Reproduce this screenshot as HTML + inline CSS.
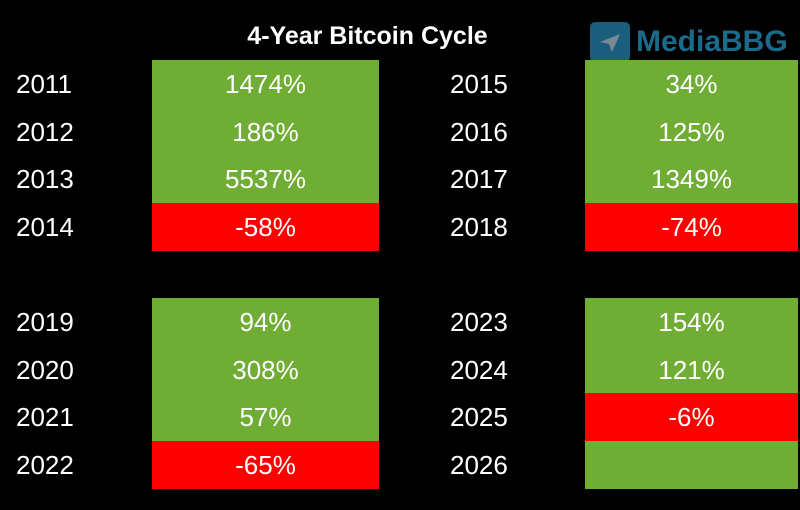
<!DOCTYPE html>
<html><head><meta charset="utf-8"><style>
body{margin:0;width:800px;height:510px;background:#000;position:relative;overflow:hidden;font-family:"Liberation Sans",sans-serif;}
.t{position:absolute;color:#fff;font-size:26px;line-height:48px;}
.c{position:absolute;color:#fff;font-size:26px;text-align:center;line-height:48px;height:48px;}
.g{background:#70ad35}.r{background:#ff0000}
</style></head><body>
<div class="t" style="left:0;width:735px;text-align:center;top:12px;font-weight:bold;line-height:48px;font-size:25px">4-Year Bitcoin Cycle</div>
<div style="position:absolute;left:590px;top:22px;width:40px;height:40px;background:#1a5d7c;border-radius:5px"></div>
<svg style="position:absolute;left:598px;top:30px" width="24" height="24"><polygon points="2,12 22,4 14,22 11,14" fill="#7a8a90"/></svg>
<div style="position:absolute;left:636px;top:22px;font-size:30px;font-weight:bold;color:#1b6a8a;line-height:40px">MediaBBG</div>

<div class="t" style="left:16px;top:60px">2011</div>
<div class="t" style="left:16px;top:108px">2012</div>
<div class="t" style="left:16px;top:155px">2013</div>
<div class="t" style="left:16px;top:203px">2014</div>
<div class="t" style="left:16px;top:298px">2019</div>
<div class="t" style="left:16px;top:346px">2020</div>
<div class="t" style="left:16px;top:393px">2021</div>
<div class="t" style="left:16px;top:441px">2022</div>
<div class="t" style="left:450px;top:60px">2015</div>
<div class="t" style="left:450px;top:108px">2016</div>
<div class="t" style="left:450px;top:155px">2017</div>
<div class="t" style="left:450px;top:203px">2018</div>
<div class="t" style="left:450px;top:298px">2023</div>
<div class="t" style="left:450px;top:346px">2024</div>
<div class="t" style="left:450px;top:393px">2025</div>
<div class="t" style="left:450px;top:441px">2026</div>

<div class="c g" style="left:152px;width:227px;top:60px">1474%</div>
<div class="c g" style="left:152px;width:227px;top:108px">186%</div>
<div class="c g" style="left:152px;width:227px;top:155px">5537%</div>
<div class="c r" style="left:152px;width:227px;top:203px">-58%</div>
<div class="c g" style="left:152px;width:227px;top:298px">94%</div>
<div class="c g" style="left:152px;width:227px;top:346px">308%</div>
<div class="c g" style="left:152px;width:227px;top:393px">57%</div>
<div class="c r" style="left:152px;width:227px;top:441px">-65%</div>

<div class="c g" style="left:585px;width:213px;top:60px">34%</div>
<div class="c g" style="left:585px;width:213px;top:108px">125%</div>
<div class="c g" style="left:585px;width:213px;top:155px">1349%</div>
<div class="c r" style="left:585px;width:213px;top:203px">-74%</div>
<div class="c g" style="left:585px;width:213px;top:298px">154%</div>
<div class="c g" style="left:585px;width:213px;top:346px">121%</div>
<div class="c r" style="left:585px;width:213px;top:393px">-6%</div>
<div class="c g" style="left:585px;width:213px;top:441px"></div>
</body></html>
